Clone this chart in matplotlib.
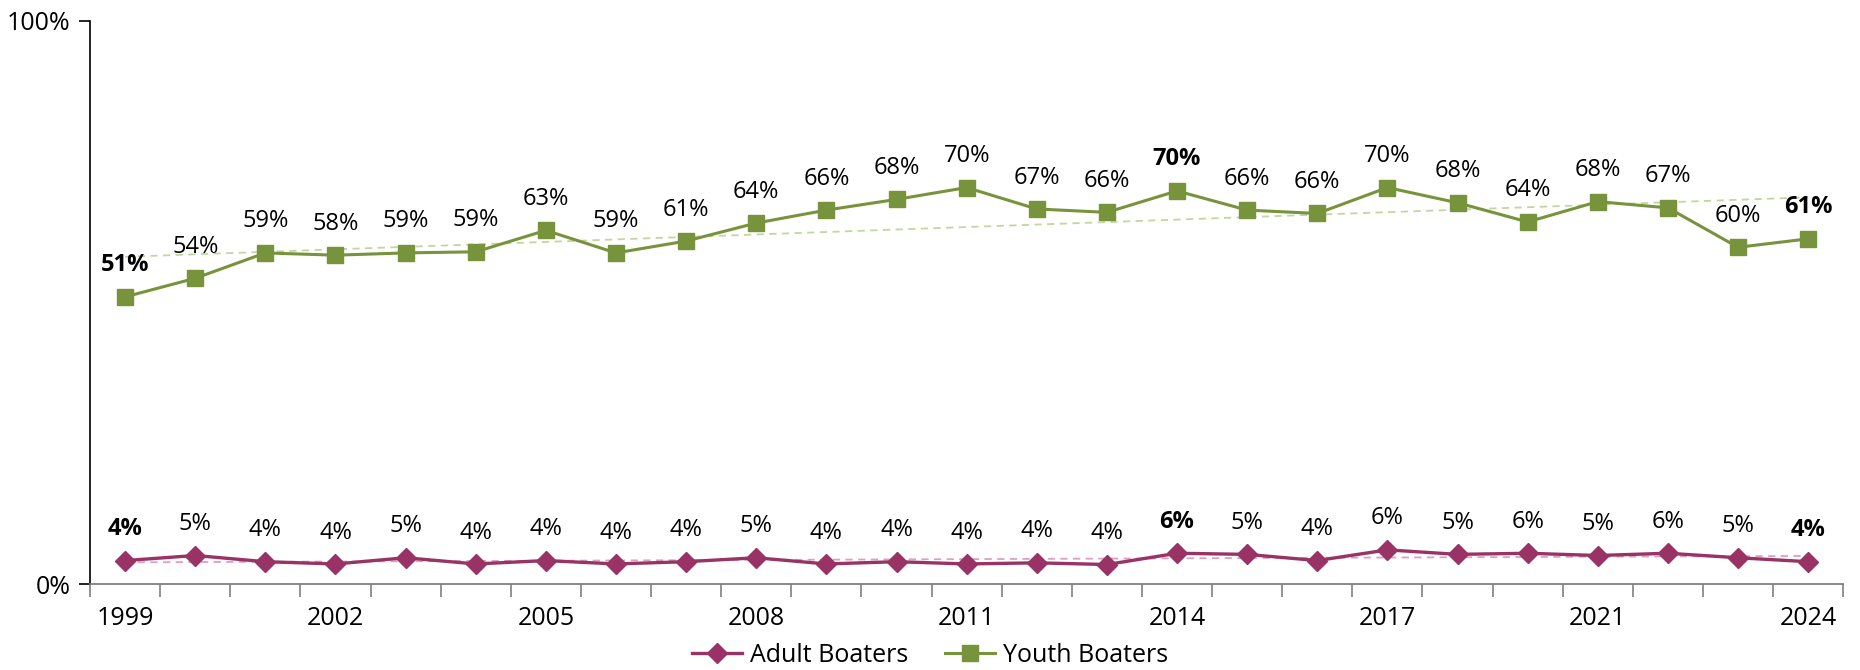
import numpy as np
import matplotlib.pyplot as plt

plt.rcParams['font.family'] = ['Open Sans', 'DejaVu Sans']

years = [str(y) for y in range(1999, 2020)] + ['2021', '2022', '2023', '2024']
youth = [51.0, 54.3, 58.8, 58.4, 58.8, 59.0, 62.8, 58.8, 60.9, 64.1, 66.4, 68.3, 70.4,
         66.6, 66.0, 69.8, 66.4, 65.8, 70.4, 67.7, 64.3, 67.9, 66.8, 59.8, 61.3]
adult = [4.2, 5.1, 4.0, 3.6, 4.7, 3.6, 4.2, 3.6, 4.0, 4.7, 3.6, 4.0, 3.6,
         3.8, 3.5, 5.5, 5.3, 4.2, 6.1, 5.3, 5.5, 5.1, 5.5, 4.7, 4.0]
bold_idx = [0, 15, 24]
shown_ticks = ['1999', '2002', '2005', '2008', '2011', '2014', '2017', '2021', '2024']

green = '#77933C'
plum = '#993366'

fig = plt.figure(figsize=(18.6, 6.7), dpi=100)
ax = fig.add_axes([0.0484, 0.128, 0.9426, 0.841])

x = np.arange(len(years))

# linear trend lines
for vals, col in [(youth, '#C3D69B'), (adult, '#DDA0C0')]:
    k, b = np.polyfit(x, vals, 1)
    ax.plot(x, k * x + b, ls=(0, (4, 3)), color=col, lw=1.3, zorder=1)

ax.plot(x, adult, color=plum, lw=2.4, marker='D', ms=10, label='Adult Boaters', zorder=3)
ax.plot(x, youth, color=green, lw=2.2, marker='s', ms=11, label='Youth Boaters', zorder=3)

for vals in (youth, adult):
    for i, v in enumerate(vals):
        ax.annotate(f'{v:.0f}%', (i, v), xytext=(0, 14), textcoords='offset points',
                    ha='center', va='bottom', fontsize=17,
                    fontweight='bold' if i in bold_idx else 'normal')

ax.set_xlim(-0.5, len(years) - 0.5)
ax.set_ylim(0, 100)
ax.set_yticks([0, 100])
ax.set_yticklabels(['0%', '100%'], fontsize=18)

ax.set_xticks(x)
ax.set_xticklabels([y if y in shown_ticks else '' for y in years], fontsize=18)
ax.tick_params(axis='x', length=0, pad=16)
ax.set_xticks(np.arange(-0.5, len(years)), minor=True)
ax.tick_params(axis='x', which='minor', length=9, color='#808080', width=1.2)
ax.tick_params(axis='y', length=8, width=1.2, pad=6)

for s in ['top', 'right']:
    ax.spines[s].set_visible(False)
ax.spines['bottom'].set_color('#808080')
ax.spines['bottom'].set_linewidth(1.3)
ax.spines['left'].set_linewidth(1.2)

fig.legend(loc='lower center', ncol=2, frameon=False, fontsize=18,
           bbox_to_anchor=(0.5, -0.03), handlelength=2.0, handletextpad=0.3,
           columnspacing=1.5)

fig.savefig('out.png', dpi=100)
